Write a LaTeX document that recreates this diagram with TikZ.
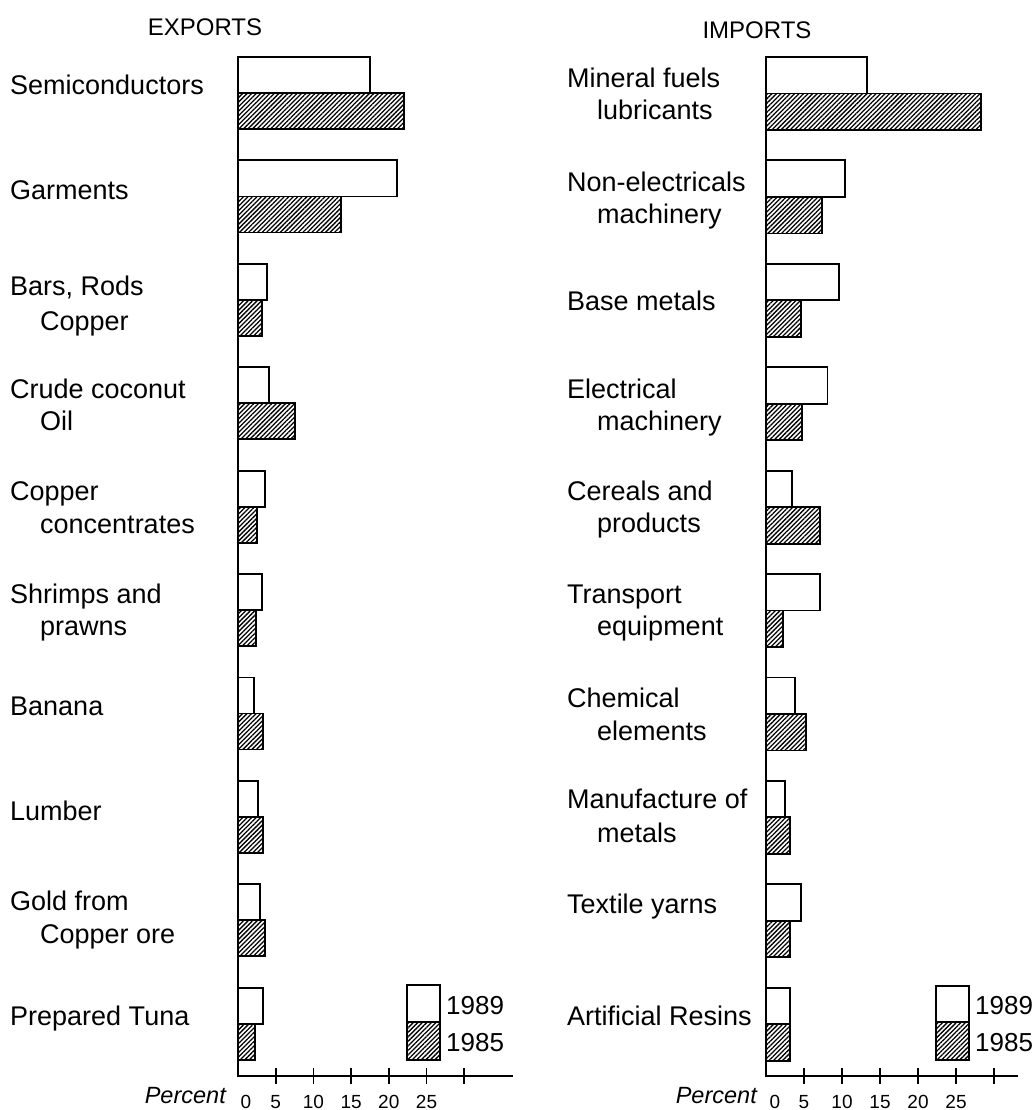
\documentclass[tikz,border=0pt]{standalone}
\usepackage{fontspec}
\setmainfont{Liberation Sans}
\usetikzlibrary{patterns.meta}
\begin{document}
\begin{tikzpicture}[x=1pt,y=-1pt,
  lbl/.style={anchor=base west, inner sep=0pt, font=\fontsize{27}{32}\selectfont},
  ttl/.style={inner sep=0pt, font=\fontsize{24}{28}\selectfont},
  tick/.style={anchor=base, inner sep=0pt, font=\fontsize{19}{21}\selectfont},
  pct/.style={anchor=base east, inner sep=0pt, font=\fontsize{23.5}{26}\selectfont\itshape},
  bareighty/.style={draw, line width=1.8pt, fill=white},
  barhatch/.style={draw, line width=1.8pt, pattern={Lines[angle=45,distance=3.2pt,line width=1.3pt]}},
  axisline/.style={line width=1.8pt}]
\useasboundingbox (0,0) rectangle (1034,1110);

% titles
\node[ttl] (expT) at (205,27) {EXPORTS};
\node[ttl] (impT) at (757,30) {IMPORTS};

% ---------- EXPORTS panel ----------
\coordinate (LO) at (238,1076);
\coordinate (LT) at (238,57);
\coordinate (LE) at (513,1076);
\foreach \a/\b [count=\i from 0] in {17.5/22.0, 21.1/13.7, 3.8/3.2, 4.1/7.6, 3.6/2.5, 3.2/2.4, 2.1/3.3, 2.7/3.3, 2.9/3.6, 3.3/2.3}{
  \pgfmathsetmacro\yy{57+103.4*\i}
  \draw[bareighty] (238,\yy) rectangle ({238+7.54*\a},{\yy+36});
  \draw[barhatch] (238,{\yy+36}) rectangle ({238+7.54*\b},{\yy+72});
}
\draw[axisline] (LT) -- (LO) -- (LE);
\foreach \k in {1,...,6}{
  \draw[axisline] ({238+37.7*\k},1068) -- ({238+37.7*\k},1084);
}
\node[tick] (lt0) at (246,1108) {0};
\foreach \k/\t in {1/5,2/10,3/15,4/20,5/25}{
  \node[tick] (lt\k) at ({238+37.7*\k},1108) {\t};
}
\node[pct] (lpct) at (226,1103) {Percent};

% legend left
\draw[bareighty] (407,985) rectangle (440,1022);
\draw[barhatch] (407,1022) rectangle (440,1060);
\node[lbl, font=\fontsize{26}{30}\selectfont] (l89) at (446,1014) {1989};
\node[lbl, font=\fontsize{26}{30}\selectfont] (l85) at (446,1051) {1985};

% labels left
\node[lbl] (e1) at (10,95) {Semiconductors};
\node[lbl] (e2) at (10,200) {Garments};
\node[lbl] (e3a) at (10,295) {Bars, Rods};
\node[lbl] (e3b) at (40,330) {Copper};
\node[lbl] (e4a) at (10,398) {Crude coconut};
\node[lbl] (e4b) at (40,430) {Oil};
\node[lbl] (e5a) at (10,500) {Copper};
\node[lbl] (e5b) at (40,533) {concentrates};
\node[lbl] (e6a) at (10,603) {Shrimps and};
\node[lbl] (e6b) at (40,635) {prawns};
\node[lbl] (e7) at (10,715) {Banana};
\node[lbl] (e8) at (10,820) {Lumber};
\node[lbl] (e9a) at (10,910) {Gold from};
\node[lbl] (e9b) at (40,943) {Copper ore};
\node[lbl] (e10) at (10,1025) {Prepared Tuna};

% ---------- IMPORTS panel ----------
\coordinate (RO) at (766,1076);
\coordinate (RT) at (766,57);
\coordinate (RE) at (1018,1076);
\foreach \a/\b [count=\i from 0] in {13.3/28.3, 10.4/7.4, 9.6/4.6, 8.1/4.7, 3.4/7.1, 7.1/2.2, 3.8/5.3, 2.5/3.2, 4.6/3.2, 3.2/3.2}{
  \pgfmathsetmacro\yy{57+103.4*\i}
  \draw[bareighty] (766,\yy) rectangle ({766+7.6*\a},{\yy+36.5});
  \draw[barhatch] (766,{\yy+36.5}) rectangle ({766+7.6*\b},{\yy+73});
}
\draw[axisline] (RT) -- (RO) -- (RE);
\foreach \k in {1,...,6}{
  \draw[axisline] ({766+38*\k},1068) -- ({766+38*\k},1084);
}
\node[tick] (rt0) at (775,1108) {0};
\foreach \k/\t in {1/5,2/10,3/15,4/20,5/25}{
  \node[tick] (rt\k) at ({766+38*\k},1108) {\t};
}
\node[pct] (rpct) at (757,1103) {Percent};

% legend right
\draw[bareighty] (936,986) rectangle (969,1022);
\draw[barhatch] (936,1022) rectangle (969,1060);
\node[lbl, font=\fontsize{26}{30}\selectfont] (r89) at (975,1014) {1989};
\node[lbl, font=\fontsize{26}{30}\selectfont] (r85) at (975,1051) {1985};

% labels right
\node[lbl] (i1a) at (567,88) {Mineral fuels};
\node[lbl] (i1b) at (597,120) {lubricants};
\node[lbl] (i2a) at (567,192) {Non-electricals};
\node[lbl] (i2b) at (597,223) {machinery};
\node[lbl] (i3) at (567,310) {Base metals};
\node[lbl] (i4a) at (567,398) {Electrical};
\node[lbl] (i4b) at (597,430) {machinery};
\node[lbl] (i5a) at (567,500) {Cereals and};
\node[lbl] (i5b) at (597,532) {products};
\node[lbl] (i6a) at (567,603) {Transport};
\node[lbl] (i6b) at (597,635) {equipment};
\node[lbl] (i7a) at (567,707) {Chemical};
\node[lbl] (i7b) at (597,740) {elements};
\node[lbl] (i8a) at (567,808) {Manufacture of};
\node[lbl] (i8b) at (597,842) {metals};
\node[lbl] (i9) at (567,913) {Textile yarns};
\node[lbl] (i10) at (567,1025) {Artificial Resins};
\end{tikzpicture}
\end{document}
